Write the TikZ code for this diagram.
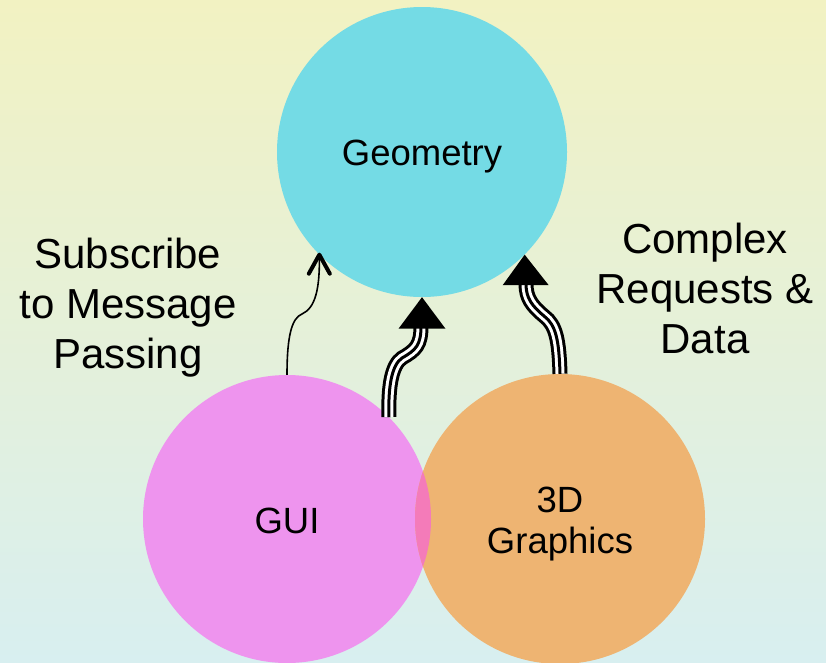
\documentclass[tikz,border=0pt]{standalone}
\usepackage{fontspec}
\setmainfont{Liberation Sans}
\usetikzlibrary{arrows.meta,calc}
\definecolor{bgtop}{HTML}{F2F2C2}
\definecolor{bgbot}{HTML}{D8EFF0}
\definecolor{geoc}{HTML}{74DBE5}
\definecolor{guic}{HTML}{EE94EE}
\definecolor{gfxc}{HTML}{EEB472}
\definecolor{lensc}{HTML}{F47BB9}
\tikzset{
  blob/.style={circle, minimum size=290pt, inner sep=0pt, draw=none},
  inlbl/.style={font=\fontsize{36.5}{41}\selectfont, align=center, anchor=base, inner sep=0pt},
  sidelbl/.style={font=\fontsize{42}{50}\selectfont, align=center, anchor=base, inner sep=0pt},
  thinline/.style={line width=1.6pt},
  barb/.style={line width=4pt, line cap=round, line join=round},
  triple/.style={line width=3pt, black,
     preaction={draw, white, line width=9pt,
       preaction={draw, black, line width=15pt}}},
  headtri/.style={fill=black}
}
\begin{document}
\begin{tikzpicture}[x=1pt, y=-1pt]
\useasboundingbox (0,0) rectangle (826,662);
\shade[top color=bgtop, bottom color=bgbot] (0,0) rectangle (826,662);

\node[blob, fill=geoc] (geo) at (422,152) {};
\node[blob, fill=guic, minimum size=288pt] (gui) at (287,519) {};
\node[blob, fill=gfxc, minimum size=290pt] (gfx) at (560,519) {};
\begin{scope}
  \clip (287,519) circle[radius=144];
  \fill[lensc] (560,519) circle[radius=145];
\end{scope}

\node[inlbl] (geot) at (422,165) {Geometry};
\node[inlbl] (guit) at (287,533) {GUI};
\node[inlbl] (gfxt) at (560,553) {3D\\Graphics};

\node[sidelbl] (subt) at (128,368) {Subscribe\\to Message\\Passing};
\node[sidelbl] (cplx) at (705,353) {Complex\\Requests \&\\Data};

% thin arrow
\coordinate (k1) at (302,314);
\draw[thinline] (gui.90) .. controls (287,335) and (292,318) .. (k1)
   .. controls (315,308) and (320,290) .. (geo.225);
\draw[barb] ($(geo.225)+(-10.5,19)$) -- (geo.225) -- ++(10.5,19);

% middle triple arrow
\coordinate (k2) at (402,358);
\coordinate (b2) at (421,326);
\draw[triple] (gui.45) .. controls (388,385) and (392,365) .. (k2)
   .. controls (416,350) and (421,345) .. (b2);
\fill[headtri] (geo.270) -- ++(-23.5,31.5) -- ++(47,0) -- cycle;

% right triple arrow
\coordinate (k3) at (544,316);
\coordinate (b3) at (526,284);
\draw[triple] (gfx.90) .. controls (559,340) and (556,325) .. (k3)
   .. controls (532,306) and (526,298) .. (b3);
\fill[headtri] (geo.315) -- ++(-22,30.5) -- ++(46,0) -- cycle;
\end{tikzpicture}
\end{document}
